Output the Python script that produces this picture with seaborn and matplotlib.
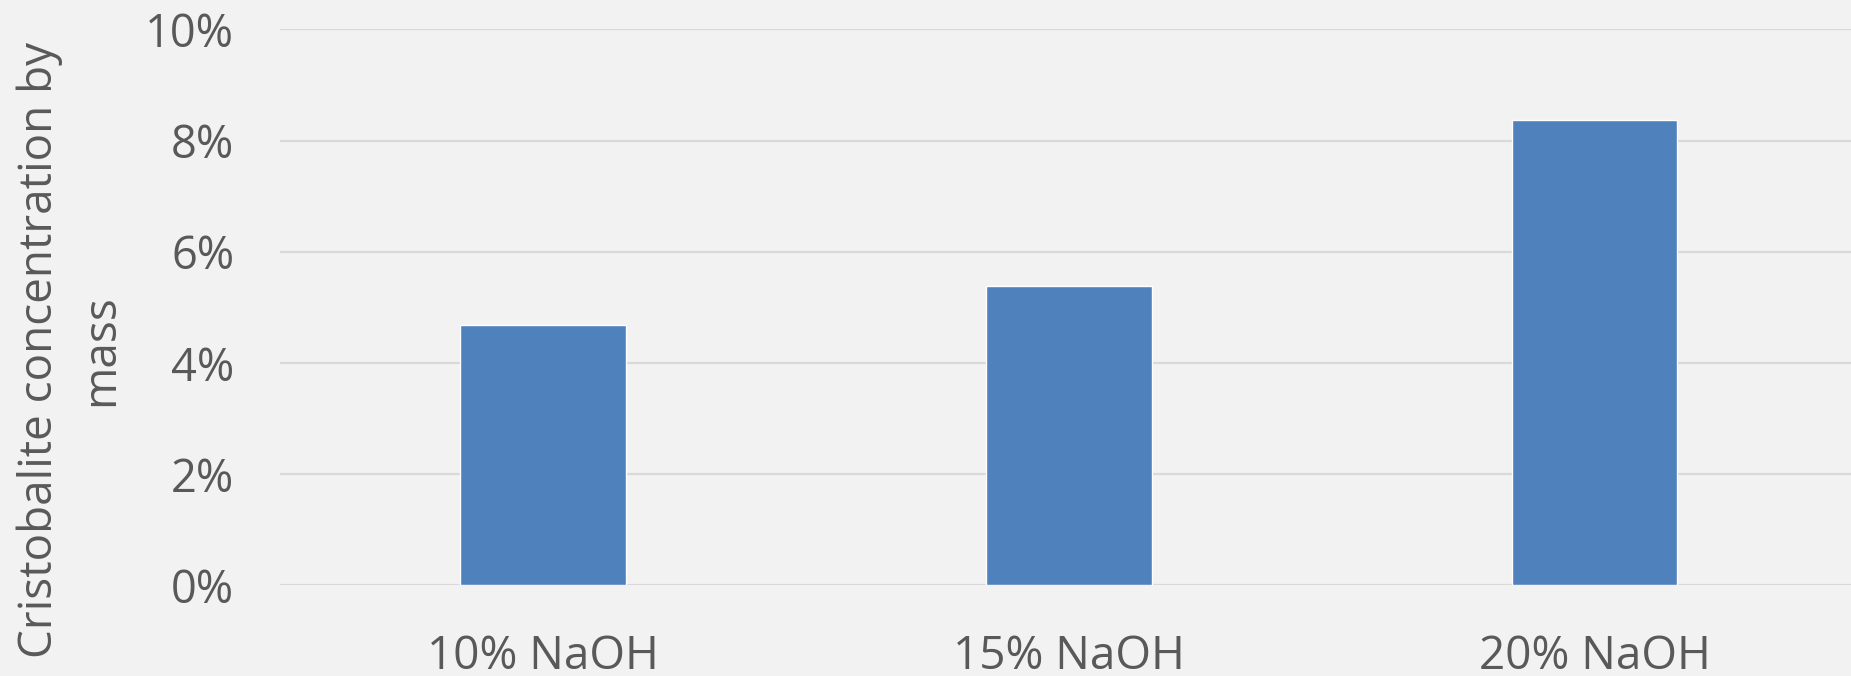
import matplotlib
matplotlib.use("Agg")
import matplotlib.pyplot as plt
import seaborn as sns
import pandas as pd
from matplotlib.ticker import FuncFormatter

categories = ["10% NaOH", "15% NaOH", "20% NaOH"]
values = [4.69, 5.38, 8.38]
yticks = [0, 2, 4, 6, 8, 10]

sns.set_style("white")
plt.rcParams['font.family'] = ['Open Sans', 'DejaVu Sans']

bg = "#f2f2f2"
text_color = "#595959"

fig = plt.figure(figsize=(18.51, 6.76), dpi=100, facecolor=bg)
ax = fig.add_axes([0.1513, 0.1339, 0.8487, 0.8225])
ax.set_facecolor(bg)

df = pd.DataFrame({"cat": categories, "val": values})
sns.barplot(data=df, x="cat", y="val", color="#4f81bd", saturation=1,
            width=0.314, ax=ax, zorder=3)

ax.set_ylim(0, 10)
ax.set_xlim(-0.5, 2.487)
ax.set_yticks(yticks)
ax.yaxis.set_major_formatter(FuncFormatter(lambda v, p: f"{int(v)}%"))
ax.grid(axis="y", color="#d9d9d9", linewidth=1.6, zorder=0)
ax.set_axisbelow(True)
for s in ax.spines.values():
    s.set_visible(False)
ax.tick_params(axis="y", length=0, pad=33, labelsize=32.5, labelcolor=text_color)
ax.tick_params(axis="x", length=0, pad=35, labelsize=33, labelcolor=text_color)
ax.set_xlabel("")
ax.set_ylabel("")

fig.text(0.038, 0.482, "Cristobalite concentration by\nmass", rotation=90,
         ha="center", va="center", fontsize=33, color=text_color,
         multialignment="center", linespacing=1.45)

fig.savefig("out.png", dpi=100, facecolor=bg)
